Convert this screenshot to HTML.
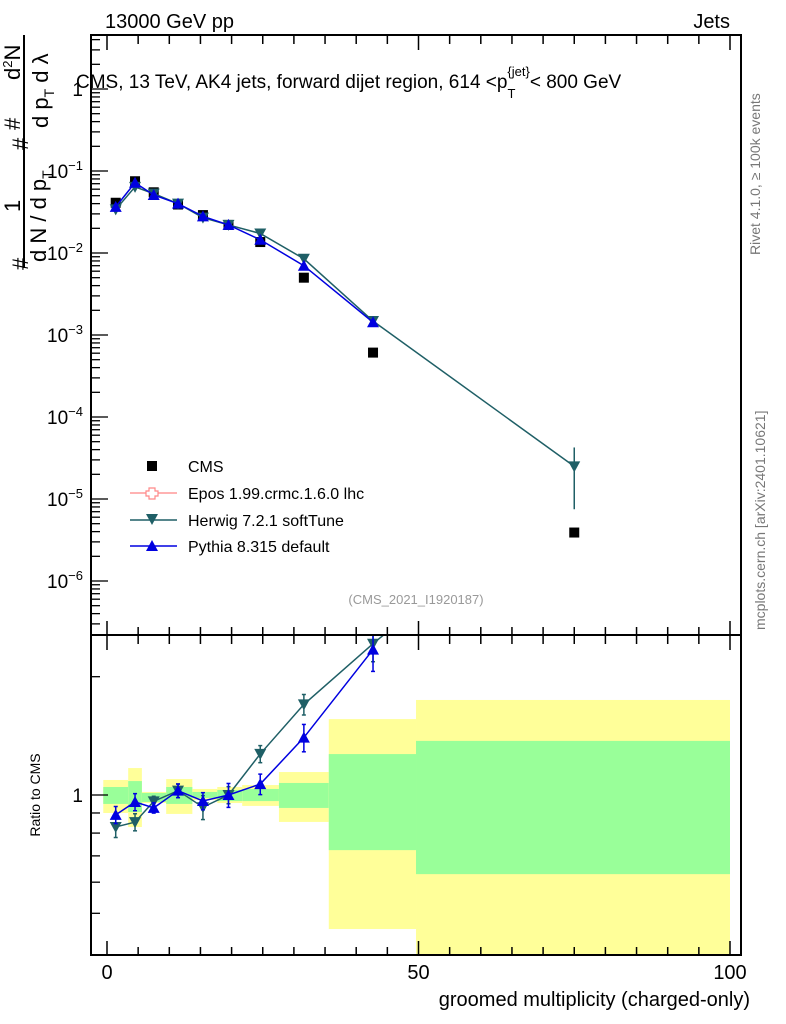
<!DOCTYPE html>
<html><head><meta charset="utf-8">
<style>
html,body{margin:0;padding:0;background:#fff;}
svg{display:block;font-family:"Liberation Sans",sans-serif;}
</style></head>
<body>
<svg id="chart" width="786" height="1024" viewBox="0 0 786 1024" xmlns="http://www.w3.org/2000/svg">
<text x="105" y="28" font-size="20">13000 GeV pp</text>
<text x="730" y="28" font-size="20" text-anchor="end">Jets</text>
<g id="bands"></g>
<g id="ticks"></g>
<g id="series"></g>
<rect x="91" y="35" width="650" height="600" fill="none" stroke="#000" stroke-width="2"/>
<rect x="91" y="635" width="650" height="320" fill="none" stroke="#000" stroke-width="2"/>
<text x="76" y="88" font-size="19">CMS, 13 TeV, AK4 jets, forward dijet region, 614 &lt;p<tspan font-size="13" dy="10">T</tspan><tspan font-size="13" dy="-22" dx="-8">{jet}</tspan><tspan dy="12">&lt; 800 GeV</tspan></text>
<text x="416" y="604" font-size="13" fill="#999" text-anchor="middle">(CMS_2021_I1920187)</text>
<g font-size="22">
<text transform="translate(28,270) rotate(-90)">#</text>
<text transform="translate(46,262) rotate(-90)">d N / d p<tspan font-size="14" dy="6">T</tspan></text>
<text transform="translate(20,212) rotate(-90)">1</text>
<line x1="24" y1="268" x2="24" y2="35" stroke="#000" stroke-width="2"/>
<text transform="translate(28,150) rotate(-90)">#</text>
<text transform="translate(48,128) rotate(-90)">d p<tspan font-size="14" dy="6">T</tspan><tspan dy="-6"> d λ</tspan></text>
<text transform="translate(20,80) rotate(-90)">d<tspan font-size="13" dy="-8">2</tspan><tspan dy="8">N</tspan></text>
<text transform="translate(20,130) rotate(-90)">#</text>
</g>
<text transform="translate(40,795) rotate(-90)" font-size="14" text-anchor="middle">Ratio to CMS</text>
<text x="750" y="1006" font-size="20" text-anchor="end">groomed multiplicity (charged-only)</text>
<text transform="translate(760,255) rotate(-90)" font-size="14" fill="#777">Rivet 4.1.0, ≥ 100k events</text>
<text transform="translate(765,630) rotate(-90)" font-size="14" fill="#777">mcplots.cern.ch [arXiv:2401.10621]</text>
<g font-size="16">
<rect x="147" y="461" width="10" height="10" fill="#000"/>
<text x="188" y="472">CMS</text>
<line x1="130" y1="493" x2="177" y2="493" stroke="#f99" stroke-width="1.5"/>
<path d="M149,488h6v3h3v5h-3v3h-6v-3h-3v-5h3z" fill="#fff" stroke="#f88" stroke-width="1.2"/>
<text x="188" y="499">Epos 1.99.crmc.1.6.0 lhc</text>
<line x1="130" y1="520" x2="177" y2="520" stroke="#1f5f66" stroke-width="1.5"/>
<path d="M146,514h12l-6,11z" fill="#1f5f66"/>
<text x="188" y="526">Herwig 7.2.1 softTune</text>
<line x1="130" y1="546" x2="177" y2="546" stroke="#0000e0" stroke-width="1.5"/>
<path d="M146,551h12l-6,-11z" fill="#0000e0"/>
<text x="188" y="552">Pythia 8.315 default</text>
</g>
</svg>
<script>
const mult = [1.4, 4.5, 7.5, 11.4, 15.4, 19.5, 24.6, 31.6, 42.7, 75];
const cms = [0.041, 0.075, 0.055, 0.039, 0.029, 0.022, 0.0136, 0.0050, 0.00061, 0.0000039];
const herwig = [0.034, 0.064, 0.053, 0.040, 0.027, 0.022, 0.0173, 0.0085, 0.00148, 0.000025];
const herwigErr = [0.06, 0.05, 0.03, 0.04, 0.07, 0.05, 0.05, 0.06, 0.1, 0.7];
const pythiaX = [1.4, 4.5, 7.5, 11.4, 15.4, 19.5, 24.6, 31.6, 42.7];
const pythia = [0.0365, 0.072, 0.051, 0.040, 0.028, 0.022, 0.0145, 0.0070, 0.00143];
const pythiaErr = [0.05, 0.05, 0.03, 0.04, 0.05, 0.07, 0.06, 0.08, 0.12];
const binEdges = [-0.6, 3.4, 5.6, 9.5, 13.7, 17.7, 21.7, 27.6, 35.6, 49.6, 100];
const yellowHi = [1.092, 1.171, 1.018, 1.098, 1.036, 1.048, 1.060, 1.144, 1.56, 1.745];
const yellowLo = [0.90, 0.829, 0.954, 0.895, 0.971, 0.954, 0.938, 0.854, 0.456, 0.30];
const greenHi = [1.048, 1.085, 1.012, 1.048, 1.018, 1.03, 1.036, 1.073, 1.271, 1.373];
const greenLo = [0.949, 0.905, 0.96, 0.949, 0.983, 0.965, 0.965, 0.927, 0.724, 0.629];
const xTicks = [0, 50, 100];
const yExps = [0, -1, -2, -3, -4, -5, -6];

const NS = "http://www.w3.org/2000/svg";
const X = v => 107 + v * 6.23;
const Y = v => 171 - (Math.log10(v) + 1) * 82;
const R = v => 795 - Math.log10(v) * 393;
function mk(tag, attrs, parent) {
  const e = document.createElementNS(NS, tag);
  for (const k in attrs) e.setAttribute(k, attrs[k]);
  parent.appendChild(e);
  return e;
}
const svgEl = document.getElementById('chart');
const defs = mk('defs', {}, svgEl);
const cpTop = mk('clipPath', {id: 'cTop'}, defs);
mk('rect', {x: 91, y: 35, width: 650, height: 600}, cpTop);
const cpBot = mk('clipPath', {id: 'cBot'}, defs);
mk('rect', {x: 91, y: 636, width: 650, height: 319}, cpBot);

const bands = document.getElementById('bands');
bands.setAttribute('clip-path', 'url(#cBot)');
for (let i = 0; i < yellowHi.length; i++) {
  const x0 = X(binEdges[i]), x1 = X(binEdges[i + 1]);
  const yb = mk('rect', {x: x0, y: R(yellowHi[i]), width: x1 - x0, height: R(yellowLo[i]) - R(yellowHi[i]), fill: '#ffff99'}, bands);
  
  
  const gb = mk('rect', {x: x0, y: R(greenHi[i]), width: x1 - x0, height: R(greenLo[i]) - R(greenHi[i]), fill: '#99ff99'}, bands);
  
  
}

const tk = document.getElementById('ticks');
for (let v = 0; v <= 100; v += 5) {
  const L = (v % 50 === 0) ? 14 : 8;
  const x = X(v);
  mk('line', {x1: x, y1: 635, x2: x, y2: 635 - L, stroke: '#000', 'stroke-width': 1.5}, tk);
  mk('line', {x1: x, y1: 36, x2: x, y2: 36 + L, stroke: '#000', 'stroke-width': 1.5}, tk);
  mk('line', {x1: x, y1: 955, x2: x, y2: 955 - L, stroke: '#000', 'stroke-width': 1.5}, tk);
  mk('line', {x1: x, y1: 636, x2: x, y2: 636 + L, stroke: '#000', 'stroke-width': 1.5}, tk);
}
xTicks.forEach(v => {
  const t = mk('text', {x: X(v), y: 979, 'font-size': 20, 'text-anchor': 'middle'}, tk);
  t.textContent = v;
  
  
});
for (let e = 0; e >= -7; e--) {
  for (let m = 1; m <= 9; m++) {
    const y = Y(m * Math.pow(10, e));
    if (y < 36 || y > 634) continue;
    const L = m === 1 ? 16 : 8;
    mk('line', {x1: 92, y1: y, x2: 92 + L, y2: y, stroke: '#000', 'stroke-width': 1.3}, tk);
  }
}
yExps.forEach(e => {
  const t = mk('text', {x: 83, y: Y(Math.pow(10, e)) + 7, 'font-size': 19, 'text-anchor': 'end'}, tk);
  
  
  if (e === 0) { t.textContent = '1'; return; }
  const a = document.createElementNS(NS, 'tspan'); a.textContent = '10'; t.appendChild(a);
  const b = document.createElementNS(NS, 'tspan'); b.setAttribute('font-size', 13); b.setAttribute('dy', -8); b.textContent = '\u2212' + (-e); t.appendChild(b);
});
[0.5, 0.6, 0.7, 0.8, 0.9, 1, 2].forEach(v => {
  const L = v === 1 ? 16 : 8;
  mk('line', {x1: 92, y1: R(v), x2: 92 + L, y2: R(v), stroke: '#000', 'stroke-width': 1.3}, tk);
});
const oneLbl = mk('text', {x: 83, y: R(1) + 7, 'font-size': 19, 'text-anchor': 'end'}, tk);
oneLbl.textContent = '1';



const sg = document.getElementById('series');
const gTop = mk('g', {'clip-path': 'url(#cTop)'}, sg);
const gBot = mk('g', {'clip-path': 'url(#cBot)'}, sg);
const cmsLayer = mk('g', {}, gTop);
const mcLayer = mk('g', {}, gTop);
function tri(g, x, y, down, col) {
  const d = down ? `M${x-6},${y-5}h12l-6,11z` : `M${x-6},${y+5}h12l-6,-11z`;
  return mk('path', {d: d, fill: col}, g);
}
function drawSeries(xs, vals, errs, col, down, name) {
  const pts = xs.map((x, i) => X(x) + ',' + Y(vals[i])).join(' ');
  const l = mk('polyline', {points: pts, fill: 'none', stroke: col, 'stroke-width': 1.5}, mcLayer);
  
  
  const rv = xs.map((x, i) => vals[i] / cms[mult.indexOf(x)]);
  const rpts = xs.map((x, i) => X(x) + ',' + R(rv[i])).join(' ');
  const rl = mk('polyline', {points: rpts, fill: 'none', stroke: col, 'stroke-width': 1.5}, gBot);
  
  
  xs.forEach((x, i) => {
    const px = X(x);
    const hi = vals[i] * (1 + errs[i]), lo = vals[i] * Math.max(0.05, 1 - errs[i]);
    mk('line', {x1: px, y1: Y(hi), x2: px, y2: Y(lo), stroke: col, 'stroke-width': 1.5}, mcLayer);
    const m = tri(mcLayer, px, Y(vals[i]), down, col);
    
    
    if (rv[i] > 3) return;
    const rh = rv[i] * (1 + errs[i]), rlo = rv[i] * (1 - errs[i]);
    mk('line', {x1: px, y1: R(rh), x2: px, y2: R(rlo), stroke: col, 'stroke-width': 1.5}, gBot);
    mk('line', {x1: px - 2, y1: R(rh), x2: px + 2, y2: R(rh), stroke: col, 'stroke-width': 1.5}, gBot);
    mk('line', {x1: px - 2, y1: R(rlo), x2: px + 2, y2: R(rlo), stroke: col, 'stroke-width': 1.5}, gBot);
    const rm = tri(gBot, px, R(rv[i]), down, col);
    
    
  });
}
mult.forEach((x, i) => {
  const r = mk('rect', {x: X(x) - 5, y: Y(cms[i]) - 5, width: 10, height: 10, fill: '#000'}, cmsLayer);
  
  
});
drawSeries(mult, herwig, herwigErr, '#1f5f66', true, 'herwig');
drawSeries(pythiaX, pythia, pythiaErr, '#0000e0', false, 'pythia');
</script>
</body></html>
